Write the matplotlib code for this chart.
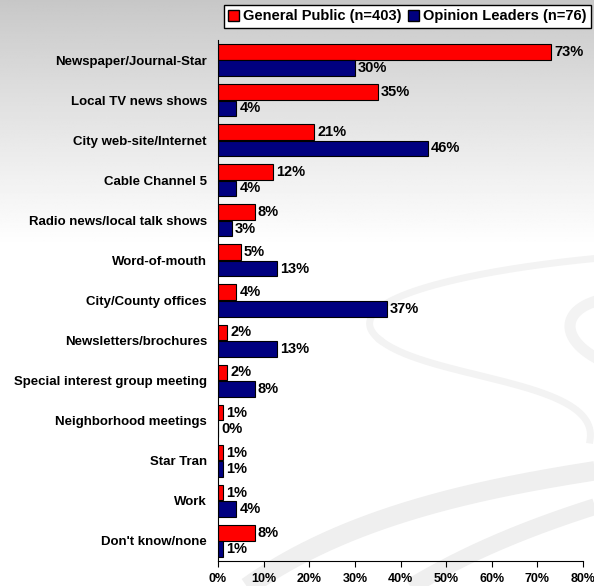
import numpy as np
import matplotlib
matplotlib.use("Agg")
import matplotlib.pyplot as plt
from matplotlib.patches import Patch

categories = ["Newspaper/Journal-Star", "Local TV news shows", "City web-site/Internet",
              "Cable Channel 5", "Radio news/local talk shows", "Word-of-mouth",
              "City/County offices", "Newsletters/brochures", "Special interest group meeting",
              "Neighborhood meetings", "Star Tran", "Work", "Don't know/none"]
general_public = [73, 35, 21, 12, 8, 5, 4, 2, 2, 1, 1, 1, 8]
opinion_leaders = [30, 4, 46, 4, 3, 13, 37, 13, 8, 0, 1, 4, 1]
series_names = ["General Public (n=403)", "Opinion Leaders (n=76)"]
colors = ["#ff0000", "#000080"]
xticks = [0, 10, 20, 30, 40, 50, 60, 70, 80]

plt.rcParams['font.family'] = ['Liberation Sans', 'DejaVu Sans']
W, H = 594, 586
fig = plt.figure(figsize=(W / 100, H / 100), dpi=100)

# background gradient (pixel coords)
bg = fig.add_axes([0, 0, 1, 1], zorder=-10)
yy = np.linspace(0, 1, 400)[:, None]
grad = 0.78 + 0.22 * np.clip(yy / 0.42, 0, 1) ** 0.9
bg.imshow(np.repeat(grad, 10, axis=1), cmap='gray', vmin=0, vmax=1, aspect='auto',
          extent=[0, W, H, 0], zorder=0)

def bez(p0, p1, p2, p3, n=200):
    t = np.linspace(0, 1, n)[:, None]
    p0, p1, p2, p3 = map(np.array, (p0, p1, p2, p3))
    pts = (1 - t) ** 3 * p0 + 3 * (1 - t) ** 2 * t * p1 + 3 * (1 - t) * t ** 2 * p2 + t ** 3 * p3
    return pts[:, 0], pts[:, 1]

sw = '#efefef'
# lower swooshes
x, y = bez((230, 600), (330, 520), (470, 490), (600, 470))
bg.plot(x, y, color=sw, lw=14, solid_capstyle='butt', zorder=1)
x, y = bez((390, 600), (450, 560), (520, 530), (600, 505))
bg.plot(x, y, color=sw, lw=12, solid_capstyle='butt', zorder=1)
# S-shaped swoosh on the right
x, y = bez((600, 258), (470, 270), (330, 300), (380, 340))
bg.plot(x, y, color='#f3f3f3', lw=5, zorder=1)
x, y = bez((380, 340), (430, 380), (600, 380), (590, 440))
bg.plot(x, y, color='#f3f3f3', lw=5, zorder=1)
x, y = bez((600, 300), (560, 310), (560, 340), (600, 360))
bg.plot(x, y, color='#f3f3f3', lw=8, zorder=1)
bg.set_xlim(0, W); bg.set_ylim(H, 0)
bg.axis('off')

ax_top, ax_bot, ax_l, ax_r = 40, 561, 218, 583
ax = fig.add_axes([ax_l / W, 1 - ax_bot / H, (ax_r - ax_l) / W, (ax_bot - ax_top) / H])
ax.patch.set_alpha(0)
n = len(categories)
ypos = np.arange(n)
h = 0.39
ax.barh(ypos - h / 2 - 0.01, general_public, height=h, color=colors[0], edgecolor='black', linewidth=0.8)
ax.barh(ypos + h / 2 + 0.01, opinion_leaders, height=h, color=colors[1], edgecolor='black', linewidth=0.8)
for i in range(n):
    ax.text(general_public[i] + 0.7, ypos[i] - h / 2 - 0.01, f"{general_public[i]}%", va='center', ha='left',
            fontsize=10.5, fontweight='bold')
    ax.text(opinion_leaders[i] + 0.7, ypos[i] + h / 2 + 0.01, f"{opinion_leaders[i]}%", va='center', ha='left',
            fontsize=10.5, fontweight='bold')
ax.set_ylim(n - 0.5, -0.5)
ax.set_xlim(0, 80)
ax.set_yticks(ypos)
ax.set_yticklabels(categories, fontsize=9.5, fontweight='bold')
ax.tick_params(axis='y', length=0, pad=8)
ax.set_xticks(xticks)
ax.set_xticklabels([f"{v}%" for v in xticks], fontsize=9, fontweight='bold')
ax.tick_params(axis='x', length=4, direction='out', pad=5)
for s in ['top', 'right']:
    ax.spines[s].set_visible(False)
ax.spines['left'].set_linewidth(0.8)
ax.spines['bottom'].set_linewidth(0.8)

handles = [Patch(facecolor=colors[0], edgecolor='black'), Patch(facecolor=colors[1], edgecolor='black')]
leg = fig.legend(handles, series_names, loc='upper right', bbox_to_anchor=(591 / W, 1 - 5 / H),
                 ncol=2, frameon=True, fancybox=False, edgecolor='black', framealpha=1,
                 prop={'weight': 'bold', 'size': 10.5}, handlelength=0.75, handleheight=0.75,
                 handletextpad=0.3, columnspacing=0.4, borderpad=0.3, borderaxespad=0)
leg.get_frame().set_linewidth(1.0)

fig.savefig("out.png", dpi=100)
